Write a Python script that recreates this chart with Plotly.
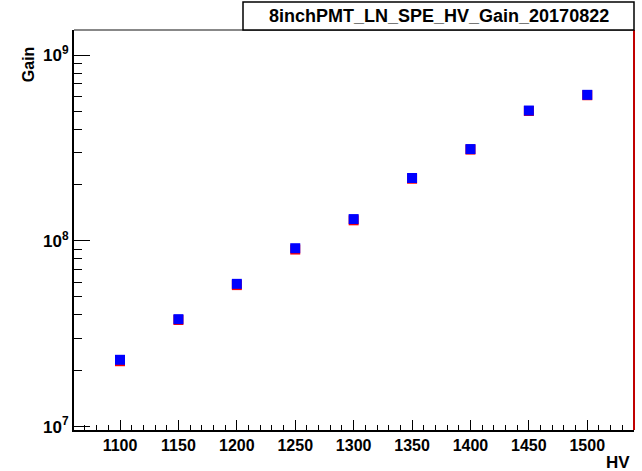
import plotly.graph_objects as go

hv = [1100, 1150, 1200, 1250, 1300, 1350, 1400, 1450, 1500]
gain_blue = [2.29e7, 3.79e7, 5.87e7, 9.13e7, 1.31e8, 2.18e8, 3.12e8, 5.03e8, 6.11e8]
gain_red = [2.25e7, 3.75e7, 5.78e7, 8.98e7, 1.29e8, 2.16e8, 3.10e8, 5.0e8, 6.08e8]
title_text = "8inchPMT_LN_SPE_HV_Gain_20170822"
ytick_vals = [1e7, 1e8, 1e9]
ytick_text = ["10<sup>7</sup>", "10<sup>8</sup>", "10<sup>9</sup>"]

FONT = "Liberation Sans, Arial, sans-serif"

fig = go.Figure()
fig.add_trace(go.Scatter(x=hv, y=gain_red, mode="markers",
                         marker=dict(symbol="square", size=10, color="red", line=dict(width=0)),
                         showlegend=False))
fig.add_trace(go.Scatter(x=hv, y=gain_blue, mode="markers",
                         marker=dict(symbol="square", size=10, color="blue", line=dict(width=0)),
                         showlegend=False))

minor_y = [k * 10 ** n for n in (7, 8) for k in range(2, 10)] + [k * 1e9 for k in (2, 3)]

fig.update_layout(
    width=642, height=471,
    margin=dict(l=74, r=8, t=30, b=41),
    paper_bgcolor="white", plot_bgcolor="white",
    font=dict(family=FONT, size=16, color="black", weight="bold"),
    xaxis=dict(range=[1060.6, 1540], showgrid=False, zeroline=False,
               showline=True, linecolor="black", linewidth=2, mirror=False,
               ticks="inside", ticklen=10, tickwidth=1, tickcolor="black",
               tick0=1100, dtick=50,
               tickfont=dict(family=FONT, size=16, weight="bold"),
               minor=dict(dtick=10, tick0=1100, ticks="inside", ticklen=5, tickcolor="black")),
    yaxis=dict(type="log", range=[6.982, 9.135], showgrid=False, zeroline=False,
               showline=True, linecolor="black", linewidth=2,
               ticks="inside", ticklen=16, tickwidth=1, tickcolor="black",
               tickmode="array", tickvals=ytick_vals, ticktext=ytick_text,
               tickfont=dict(family=FONT, size=17, weight="bold"),
               minor=dict(tickmode="array", tickvals=minor_y, ticks="inside", ticklen=8, tickcolor="black")),
)

# frame: top gray, right red
fig.add_shape(type="line", xref="paper", yref="paper", x0=0, x1=1, y0=1, y1=1,
              line=dict(color="#888888", width=2))
fig.add_shape(type="line", xref="paper", yref="paper", x0=1, x1=1, y0=0, y1=1,
              line=dict(color="#c00000", width=2))

# title box
bx0 = (243 - 74) / 560
fig.add_shape(type="rect", xref="paper", yref="paper", x0=bx0, x1=1.0, y0=1.0, y1=1.07,
              line=dict(color="black", width=1.5), fillcolor="white")
fig.add_annotation(xref="paper", yref="paper", x=(bx0 + 1.0) / 2, y=1.035, text=title_text,
                   showarrow=False, xanchor="center", yanchor="middle",
                   font=dict(family=FONT, size=18, weight="bold"))

# axis titles
fig.add_annotation(xref="paper", yref="paper", x=-0.08, y=0.915, text="Gain", textangle=-90,
                   showarrow=False, xanchor="center", yanchor="middle",
                   font=dict(family=FONT, size=16, weight="bold"))
fig.add_annotation(xref="paper", yref="paper", x=0.997, y=-0.08, text="HV",
                   showarrow=False, xanchor="right", yanchor="middle",
                   font=dict(family=FONT, size=17, weight="bold"))

fig.write_html("out.html")
